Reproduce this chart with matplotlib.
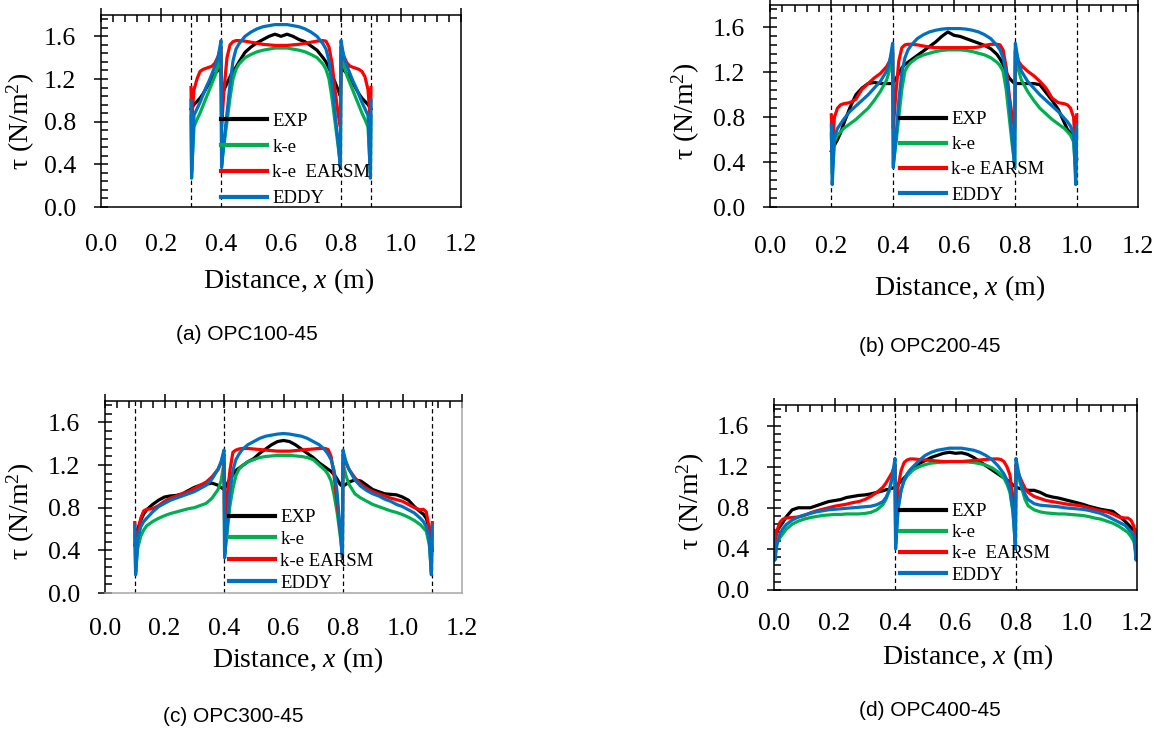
import matplotlib
matplotlib.use('Agg')
import matplotlib.pyplot as plt
from matplotlib.ticker import MultipleLocator, FormatStrFormatter

plt.rcParams['font.family'] = 'Liberation Serif'
plt.rcParams['mathtext.fontset'] = 'custom'
plt.rcParams['mathtext.rm'] = 'Liberation Serif'
plt.rcParams['mathtext.it'] = 'Liberation Serif:italic'

# x grid of the middle span (0.4 - 0.8 m), shared by all panels
x_mid = [0.402, 0.41, 0.42, 0.43, 0.44, 0.45, 0.46, 0.48, 0.50, 0.52, 0.54, 0.56, 0.58, 0.60,
         0.62, 0.64, 0.66, 0.68, 0.70, 0.72, 0.74, 0.75, 0.76, 0.77, 0.78, 0.79, 0.798]

# ---- (a) OPC100-45 ----
x_a = [0.300, 0.302, 0.31, 0.32, 0.33, 0.34, 0.35, 0.36, 0.37, 0.38, 0.39, 0.40] + x_mid + \
      [0.80, 0.81, 0.82, 0.83, 0.84, 0.85, 0.86, 0.87, 0.88, 0.89, 0.898, 0.90]
exp_a = [0.92, 0.93, 0.96, 0.99, 1.02, 1.06, 1.11, 1.16, 1.20, 1.25, 1.28, 1.30] + \
        [1.05, 1.10, 1.16, 1.22, 1.28, 1.31, 1.36, 1.45, 1.50, 1.54, 1.57, 1.60, 1.62, 1.60,
         1.62, 1.60, 1.57, 1.55, 1.51, 1.47, 1.40, 1.36, 1.30, 1.24, 1.17, 1.10, 1.04] + \
        [1.30, 1.28, 1.25, 1.20, 1.16, 1.11, 1.06, 1.02, 0.99, 0.96, 0.93, 0.92]
ke_a = [0.85, 0.32, 0.75, 0.82, 0.88, 0.95, 1.02, 1.09, 1.16, 1.23, 1.32, 1.43] + \
       [0.40, 0.58, 0.80, 1.02, 1.20, 1.29, 1.34, 1.40, 1.43, 1.455, 1.47, 1.48, 1.49, 1.49,
        1.49, 1.48, 1.47, 1.455, 1.43, 1.40, 1.34, 1.29, 1.20, 1.02, 0.80, 0.58, 0.40] + \
       [1.43, 1.32, 1.23, 1.16, 1.09, 1.02, 0.95, 0.88, 0.82, 0.75, 0.32, 0.85]
earsm_a = [1.12, 0.80, 1.10, 1.20, 1.27, 1.29, 1.30, 1.31, 1.32, 1.35, 1.41, 1.50] + \
          [0.75, 1.10, 1.40, 1.52, 1.55, 1.56, 1.56, 1.555, 1.545, 1.535, 1.525, 1.52, 1.515, 1.515,
           1.515, 1.52, 1.525, 1.535, 1.545, 1.555, 1.56, 1.555, 1.50, 1.35, 1.10, 0.88, 0.75] + \
          [1.50, 1.41, 1.35, 1.32, 1.31, 1.30, 1.29, 1.27, 1.22, 1.10, 0.80, 1.12]
eddy_a = [1.00, 0.27, 0.86, 0.92, 0.98, 1.05, 1.12, 1.18, 1.25, 1.32, 1.40, 1.56] + \
         [0.37, 0.62, 0.88, 1.15, 1.37, 1.48, 1.53, 1.60, 1.64, 1.67, 1.69, 1.70, 1.71, 1.71,
          1.71, 1.70, 1.69, 1.67, 1.64, 1.60, 1.53, 1.48, 1.37, 1.15, 0.88, 0.62, 0.37] + \
         [1.56, 1.40, 1.32, 1.25, 1.18, 1.12, 1.05, 0.98, 0.92, 0.86, 0.27, 1.00]

# ---- (b) OPC200-45 ----
x_b = [0.200, 0.203, 0.21, 0.22, 0.23, 0.24, 0.26, 0.28, 0.30, 0.32, 0.34, 0.36, 0.38, 0.39, 0.40] + x_mid + \
      [0.80, 0.81, 0.82, 0.84, 0.86, 0.88, 0.90, 0.92, 0.94, 0.96, 0.97, 0.98, 0.99, 0.997, 1.00]
exp_b = [0.50, 0.52, 0.55, 0.60, 0.66, 0.74, 0.88, 1.00, 1.06, 1.10, 1.11, 1.10, 1.10, 1.10, 1.10] + \
        [1.11, 1.14, 1.19, 1.24, 1.27, 1.29, 1.31, 1.35, 1.39, 1.43, 1.47, 1.52, 1.56, 1.53,
         1.52, 1.50, 1.48, 1.46, 1.44, 1.41, 1.36, 1.32, 1.27, 1.20, 1.15, 1.12, 1.10] + \
        [1.10, 1.10, 1.10, 1.10, 1.10, 1.09, 1.02, 0.95, 0.87, 0.75, 0.69, 0.66, 0.62, 0.55, 0.43]
ke_b = [0.65, 0.30, 0.58, 0.64, 0.67, 0.70, 0.74, 0.78, 0.83, 0.88, 0.95, 1.03, 1.13, 1.22, 1.38] + \
       [0.38, 0.55, 0.80, 1.05, 1.21, 1.26, 1.29, 1.33, 1.355, 1.37, 1.385, 1.395, 1.40, 1.40,
        1.40, 1.395, 1.385, 1.37, 1.355, 1.33, 1.29, 1.26, 1.21, 1.05, 0.80, 0.55, 0.38] + \
       [1.38, 1.22, 1.13, 1.03, 0.95, 0.88, 0.83, 0.78, 0.74, 0.70, 0.67, 0.64, 0.58, 0.30, 0.65]
earsm_b = [0.82, 0.48, 0.80, 0.88, 0.91, 0.92, 0.93, 0.96, 1.05, 1.10, 1.15, 1.19, 1.25, 1.30, 1.40] + \
          [0.70, 1.00, 1.30, 1.42, 1.445, 1.45, 1.45, 1.445, 1.435, 1.425, 1.42, 1.42, 1.42, 1.42,
           1.42, 1.42, 1.42, 1.425, 1.44, 1.45, 1.45, 1.445, 1.40, 1.25, 1.00, 0.80, 0.70] + \
          [1.40, 1.30, 1.26, 1.21, 1.17, 1.12, 1.06, 0.97, 0.93, 0.92, 0.91, 0.88, 0.80, 0.48, 0.82]
eddy_b = [0.73, 0.20, 0.62, 0.70, 0.74, 0.78, 0.85, 0.90, 0.95, 1.00, 1.06, 1.12, 1.21, 1.29, 1.46] + \
         [0.35, 0.60, 0.95, 1.20, 1.33, 1.40, 1.44, 1.50, 1.535, 1.56, 1.575, 1.585, 1.59, 1.59,
          1.59, 1.585, 1.575, 1.56, 1.535, 1.50, 1.44, 1.40, 1.33, 1.20, 0.95, 0.60, 0.35] + \
         [1.46, 1.29, 1.21, 1.12, 1.06, 1.00, 0.95, 0.90, 0.85, 0.79, 0.76, 0.72, 0.65, 0.20, 0.73]

# ---- (c) OPC300-45 ----
x_c = [0.100, 0.103, 0.11, 0.12, 0.13, 0.14, 0.16, 0.18, 0.20, 0.22, 0.24, 0.26, 0.28, 0.30,
       0.32, 0.34, 0.36, 0.38, 0.39, 0.40] + x_mid + \
      [0.80, 0.81, 0.82, 0.84, 0.86, 0.88, 0.90, 0.92, 0.94, 0.96, 0.98, 1.00, 1.02, 1.04,
       1.06, 1.07, 1.08, 1.09, 1.097, 1.10]
exp_c = [0.45, 0.50, 0.60, 0.68, 0.74, 0.78, 0.83, 0.87, 0.90, 0.91, 0.915, 0.93, 0.96, 0.99,
         1.01, 1.02, 1.03, 1.01, 0.99, 0.97] + \
        [0.98, 1.02, 1.07, 1.11, 1.15, 1.17, 1.19, 1.23, 1.26, 1.31, 1.35, 1.39, 1.42, 1.43,
         1.42, 1.39, 1.35, 1.31, 1.27, 1.22, 1.18, 1.16, 1.14, 1.11, 1.07, 1.02, 1.00] + \
        [1.00, 1.02, 1.04, 1.06, 1.05, 1.01, 0.97, 0.95, 0.93, 0.925, 0.92, 0.90, 0.87, 0.81,
         0.76, 0.74, 0.70, 0.60, 0.48, 0.40]
ke_c = [0.55, 0.20, 0.42, 0.53, 0.59, 0.63, 0.67, 0.70, 0.725, 0.745, 0.76, 0.775, 0.79, 0.80,
        0.82, 0.84, 0.89, 0.97, 1.05, 1.22] + \
       [0.36, 0.55, 0.82, 0.98, 1.10, 1.16, 1.19, 1.23, 1.25, 1.27, 1.28, 1.285, 1.29, 1.29,
        1.29, 1.285, 1.28, 1.27, 1.25, 1.20, 1.15, 1.11, 1.05, 0.92, 0.76, 0.55, 0.36] + \
       [1.22, 1.10, 1.02, 0.93, 0.89, 0.86, 0.83, 0.81, 0.79, 0.77, 0.755, 0.735, 0.71, 0.68,
        0.64, 0.61, 0.58, 0.45, 0.20, 0.55]
earsm_c = [0.66, 0.40, 0.55, 0.70, 0.77, 0.785, 0.79, 0.82, 0.86, 0.89, 0.91, 0.93, 0.95, 0.98,
           1.01, 1.04, 1.09, 1.16, 1.22, 1.30] + \
          [0.60, 0.90, 1.15, 1.32, 1.34, 1.35, 1.355, 1.355, 1.35, 1.345, 1.34, 1.335, 1.33, 1.33,
           1.33, 1.335, 1.34, 1.345, 1.35, 1.355, 1.355, 1.345, 1.28, 1.10, 0.85, 0.60, 0.45] + \
          [1.30, 1.22, 1.16, 1.08, 1.02, 0.98, 0.95, 0.93, 0.91, 0.89, 0.875, 0.86, 0.83, 0.80,
           0.78, 0.785, 0.76, 0.60, 0.40, 0.66]
eddy_c = [0.64, 0.17, 0.50, 0.62, 0.67, 0.70, 0.76, 0.81, 0.84, 0.87, 0.89, 0.91, 0.93, 0.95,
          0.98, 1.01, 1.07, 1.16, 1.23, 1.34] + \
         [0.33, 0.60, 0.95, 1.15, 1.25, 1.30, 1.34, 1.39, 1.42, 1.45, 1.47, 1.48, 1.49, 1.495,
          1.49, 1.48, 1.47, 1.45, 1.42, 1.39, 1.34, 1.30, 1.25, 1.15, 0.95, 0.60, 0.33] + \
         [1.34, 1.23, 1.16, 1.06, 1.00, 0.96, 0.93, 0.91, 0.88, 0.86, 0.83, 0.81, 0.78, 0.75,
          0.70, 0.67, 0.62, 0.50, 0.17, 0.64]

# ---- (d) OPC400-45 ----
x_d = [0.000, 0.003, 0.01, 0.02, 0.03, 0.04, 0.06, 0.08, 0.10, 0.12, 0.14, 0.16, 0.18, 0.20,
       0.22, 0.24, 0.26, 0.28, 0.30, 0.32, 0.34, 0.36, 0.37, 0.38, 0.39, 0.40] + x_mid + \
      [0.80, 0.81, 0.82, 0.83, 0.84, 0.86, 0.88, 0.90, 0.92, 0.94, 0.96, 0.98, 1.00, 1.02,
       1.04, 1.06, 1.08, 1.10, 1.12, 1.14, 1.16, 1.17, 1.18, 1.19, 1.197, 1.20]
exp_d = [0.52, 0.53, 0.57, 0.62, 0.66, 0.71, 0.78, 0.80, 0.80, 0.80, 0.82, 0.84, 0.86, 0.87,
         0.88, 0.90, 0.91, 0.92, 0.925, 0.935, 0.95, 0.965, 0.975, 0.98, 0.99, 1.00] + \
        [1.00, 1.03, 1.06, 1.09, 1.12, 1.15, 1.18, 1.23, 1.26, 1.29, 1.31, 1.33, 1.34, 1.33,
         1.335, 1.32, 1.29, 1.25, 1.21, 1.17, 1.13, 1.11, 1.09, 1.07, 1.05, 1.02, 1.01] + \
        [1.00, 0.99, 0.98, 0.975, 0.97, 0.97, 0.95, 0.92, 0.905, 0.895, 0.88, 0.865, 0.85, 0.835,
         0.815, 0.80, 0.785, 0.775, 0.765, 0.72, 0.67, 0.64, 0.61, 0.58, 0.57, 0.56]
ke_d = [0.50, 0.35, 0.45, 0.51, 0.55, 0.59, 0.64, 0.67, 0.69, 0.705, 0.715, 0.725, 0.73, 0.735,
        0.735, 0.74, 0.74, 0.74, 0.745, 0.755, 0.78, 0.83, 0.88, 0.96, 1.08, 1.22] + \
       [0.45, 0.80, 0.97, 1.06, 1.11, 1.14, 1.17, 1.20, 1.22, 1.235, 1.24, 1.245, 1.25, 1.25,
        1.25, 1.245, 1.24, 1.23, 1.215, 1.19, 1.15, 1.12, 1.09, 1.03, 0.95, 0.75, 0.45] + \
       [1.22, 1.08, 0.98, 0.88, 0.82, 0.78, 0.76, 0.75, 0.745, 0.74, 0.74, 0.735, 0.73, 0.725,
        0.715, 0.70, 0.69, 0.67, 0.65, 0.62, 0.58, 0.56, 0.52, 0.47, 0.35, 0.50]
earsm_d = [0.58, 0.45, 0.58, 0.66, 0.69, 0.70, 0.705, 0.71, 0.725, 0.75, 0.77, 0.785, 0.80, 0.815,
           0.825, 0.835, 0.85, 0.86, 0.88, 0.91, 0.95, 1.00, 1.04, 1.09, 1.14, 1.22] + \
          [0.60, 1.00, 1.16, 1.24, 1.265, 1.275, 1.275, 1.27, 1.265, 1.26, 1.255, 1.25, 1.25, 1.25,
           1.25, 1.255, 1.26, 1.265, 1.27, 1.275, 1.275, 1.27, 1.25, 1.20, 1.12, 0.90, 0.60] + \
          [1.22, 1.12, 1.05, 0.99, 0.95, 0.91, 0.89, 0.87, 0.86, 0.85, 0.84, 0.83, 0.825, 0.815,
           0.80, 0.785, 0.77, 0.76, 0.74, 0.71, 0.70, 0.70, 0.68, 0.62, 0.45, 0.58]
eddy_d = [0.55, 0.29, 0.45, 0.55, 0.60, 0.635, 0.68, 0.71, 0.73, 0.745, 0.76, 0.77, 0.78, 0.785,
          0.79, 0.795, 0.80, 0.805, 0.81, 0.815, 0.83, 0.86, 0.90, 0.96, 1.08, 1.28] + \
         [0.40, 0.78, 0.97, 1.07, 1.13, 1.17, 1.20, 1.26, 1.31, 1.34, 1.36, 1.37, 1.38, 1.38,
          1.38, 1.37, 1.36, 1.34, 1.31, 1.27, 1.21, 1.17, 1.13, 1.07, 0.98, 0.78, 0.40] + \
         [1.28, 1.12, 1.00, 0.93, 0.88, 0.84, 0.825, 0.82, 0.815, 0.81, 0.80, 0.795, 0.79, 0.785,
          0.775, 0.76, 0.745, 0.72, 0.69, 0.66, 0.63, 0.60, 0.57, 0.52, 0.29, 0.55]

# wall (dashed line) positions
walls_a = [0.3, 0.4, 0.8, 0.9]
walls_b = [0.2, 0.4, 0.8, 1.0]
walls_c = [0.1, 0.4, 0.8, 1.1]
walls_d = [0.4, 0.8]

colors = ['black', '#00B050', '#FF0000', '#0070C0']

W, H = 1170, 731
fig = plt.figure(figsize=(W / 100, H / 100), dpi=100)

# pixel boxes (left, right, top, bottom) and text placement per panel
panels = [
    dict(box=(101, 461, 15, 207), x=x_a, ys=[exp_a, ke_a, earsm_a, eddy_a], walls=walls_a,
         caption='(a) OPC100-45', cap=(247, 335), earsm='k-e  EARSM',
         leg=(0.333, 0.245), lsp=0.46, ylab=(-0.178, 0.448), xlab=(0.52, -0.31), xpad=14,
         edge='black'),
    dict(box=(770, 1138, 5, 207), x=x_b, ys=[exp_b, ke_b, earsm_b, eddy_b], walls=walls_b,
         caption='(b) OPC200-45', cap=(930, 346), earsm='k-e EARSM',
         leg=(0.353, 0.246), lsp=0.43, ylab=(-0.185, 0.475), xlab=(0.514, -0.33), xpad=15.5,
         edge='black'),
    dict(box=(105, 462, 401, 593), x=x_c, ys=[exp_c, ke_c, earsm_c, eddy_c], walls=walls_c,
         caption='(c) OPC300-45', cap=(233, 716), earsm='k-e EARSM',
         leg=(0.347, 0.222), lsp=0.25, ylab=(-0.19, 0.427), xlab=(0.54, -0.27), xpad=12.5,
         edge='#A6A6A6'),
    dict(box=(774, 1137, 405, 590), x=x_d, ys=[exp_d, ke_d, earsm_d, eddy_d], walls=walls_d,
         caption='(d) OPC400-45', cap=(930, 711), earsm='k-e  EARSM',
         leg=(0.348, 0.252), lsp=0.21, ylab=(-0.185, 0.478), xlab=(0.533, -0.28), xpad=11.5,
         edge='black'),
]

for p in panels:
    l, r, t, b = p['box']
    ax = fig.add_axes([l / W, 1 - b / H, (r - l) / W, (b - t) / H])

    for xw in p['walls']:
        ax.axvline(xw, color='black', lw=0.9, ls=(0, (3.5, 2.5)), zorder=1)

    labels = ['EXP', 'k-e', p['earsm'], 'EDDY']
    for y, lab, c in zip(p['ys'], labels, colors):
        ax.plot(p['x'], y, color=c, lw=2.3, label=lab, zorder=2)

    ax.set_xlim(0, 1.2)
    ax.set_ylim(0, 1.8)
    ax.xaxis.set_major_locator(MultipleLocator(0.2))
    ax.xaxis.set_minor_locator(MultipleLocator(0.04))
    ax.yaxis.set_major_locator(MultipleLocator(0.4))
    ax.yaxis.set_minor_locator(MultipleLocator(0.08))
    ax.xaxis.set_major_formatter(FormatStrFormatter('%.1f'))
    ax.yaxis.set_major_formatter(FormatStrFormatter('%.1f'))

    ax.tick_params(axis='x', which='both', bottom=False, top=True,
                   labelbottom=True, labeltop=False)
    ax.tick_params(axis='y', which='both', left=True, right=False)
    ax.tick_params(which='major', direction='inout', length=10.5, width=1.1, labelsize=18.5)
    ax.tick_params(which='minor', direction='in', length=5, width=1.1)
    ax.tick_params(axis='x', which='major', pad=p['xpad'])
    ax.tick_params(axis='y', which='major', pad=12.6)

    for s in ax.spines.values():
        s.set_linewidth(1.1)
    ax.spines['right'].set_color(p['edge'])
    ax.spines['bottom'].set_color(p['edge'])

    ax.set_xlabel('Distance, $x$ (m)', fontsize=20)
    ax.xaxis.set_label_coords(*p['xlab'])
    ax.set_ylabel('τ (N/m$^2$)', fontsize=20)
    ax.yaxis.set_label_coords(*p['ylab'])

    leg = ax.legend(loc='center left', bbox_to_anchor=p['leg'], frameon=False,
                    fontsize=13.5, handlelength=2.45, handletextpad=0.3,
                    labelspacing=p['lsp'], borderpad=0, borderaxespad=0)
    for h in leg.get_lines():
        h.set_linewidth(3.0)

    fig.text(p['cap'][0] / W, 1 - p['cap'][1] / H, p['caption'],
             ha='center', va='center', fontsize=15, family='Liberation Sans')

fig.savefig('out.png', dpi=100)
